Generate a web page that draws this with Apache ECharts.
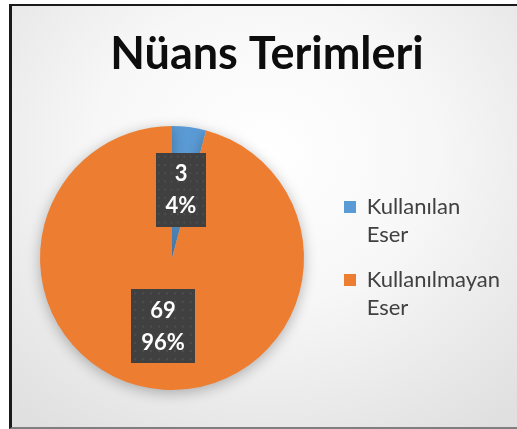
<!DOCTYPE html>
<html>
<head>
<meta charset="utf-8">
<script src="https://cdn.jsdelivr.net/npm/echarts@6/dist/echarts.min.js"></script>
<style>
  html, body { margin: 0; padding: 0; background: #ffffff; }
  #frame {
    position: absolute; left: 9px; top: 4px; width: 508px; height: 425px;
    box-sizing: border-box;
    border-left: 3px solid #1a1a1a;
    border-top: 2px solid #1a1a1a;
    border-bottom: 2px solid #7f7f7f;
    background: radial-gradient(ellipse 75% 80% at 50% 35%, #ffffff 0%, #f7f7f7 45%, #e0e0e0 100%);
  }
  #chart { position: absolute; left: 0; top: 0; width: 517px; height: 429px; }
</style>
</head>
<body>
<div id="frame"></div>
<div id="chart"></div>
<script>
// Chart content
const chartTitle = 'Nüans Terimleri';
const categories = ['Kullanılan Eser', 'Kullanılmayan Eser'];
const values = [3, 69];
const colors = ['#5B9BD5', '#ED7D31'];

// Dotted dark fill used behind the data labels
function dottedTile() {
  const c = document.createElement('canvas');
  c.width = 64; c.height = 72;
  const g = c.getContext('2d');
  g.fillStyle = '#404040';
  g.fillRect(0, 0, c.width, c.height);
  g.fillStyle = '#4e4e4e';
  for (let y = 3; y < c.height; y += 8) {
    for (let x = 3; x < c.width; x += 8) {
      g.fillRect(x, y, 2, 2);
    }
  }
  return c;
}

const chart = echarts.init(document.getElementById('chart'), null, { renderer: 'canvas' });
const font = 'Lato, "Open Sans", "DejaVu Sans", sans-serif';

chart.setOption({
  backgroundColor: 'transparent',
  color: colors,
  title: {
    text: chartTitle,
    left: 262,
    textAlign: 'center',
    top: 27,
    textStyle: { fontFamily: font, fontSize: 45, fontWeight: 'bold', color: '#0d0d0d' }
  },
  legend: {
    orient: 'vertical',
    left: 344,
    top: 165,
    padding: 0,
    itemWidth: 12,
    itemHeight: 12,
    itemGap: -11,
    icon: 'rect',
    // blank first line keeps the icon level with the first text line
    formatter: function (name) {
      return ' \n' + name.split(' ').map(w => ' ' + w).join('\n');
    },
    textStyle: {
      fontFamily: font, fontSize: 22, color: '#404040', lineHeight: 28
    },
    data: categories
  },
  series: [{
    type: 'pie',
    center: [172, 258],
    radius: 132,
    startAngle: 90,
    clockwise: true,
    percentPrecision: 0,
    avoidLabelOverlap: false,
    itemStyle: {
      shadowBlur: 14,
      shadowColor: 'rgba(0,0,0,0.28)',
      shadowOffsetY: 3
    },
    label: {
      show: true,
      position: 'inside',
      formatter: '{c}\n{d}%',
      fontFamily: font,
      fontSize: 22,
      fontWeight: 'bold',
      color: '#ffffff',
      lineHeight: 32,
      padding: [5, 10, 5, 10],
      backgroundColor: { image: dottedTile() },
      shadowBlur: 6,
      shadowOffsetX: 3,
      shadowOffsetY: 3,
      shadowColor: 'rgba(0,0,0,0.45)'
    },
    labelLine: { show: false },
    emphasis: { disabled: true },
    animation: false,
    data: categories.map((n, i) => ({ name: n, value: values[i] }))
  }]
});
</script>
</body>
</html>
